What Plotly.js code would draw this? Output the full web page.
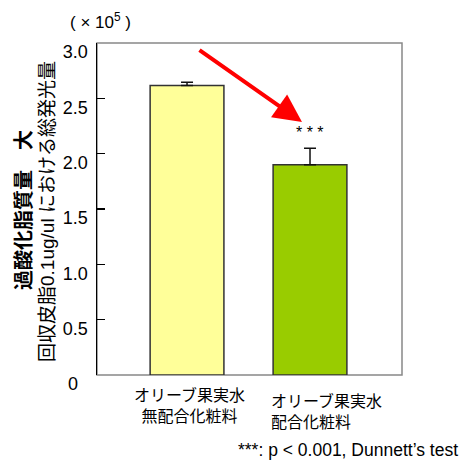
<!DOCTYPE html>
<html>
<head>
<meta charset="utf-8">
<script src="https://cdn.plot.ly/plotly-3.0.1.min.js"></script>
<style>
  html, body { margin: 0; padding: 0; background: #fff; }
  #chart { width: 462px; height: 467px; }
</style>
</head>
<body>
<div id="chart"></div>
<script>
// Total luminescence of recovered sebum (x10^5), with and without olive fruit water
const categories = ["オリーブ果実水<br>無配合化粧料", "オリーブ果実水<br>配合化粧料"];
const values = [2.615, 1.90];
const errorsUp = [0.03, 0.15];
const barColors = ["#FFFF99", "#99CC00"];
const yTickVals = [0, 0.5, 1.0, 1.5, 2.0, 2.5, 3.0];
const yTickText = ["0\u00a0\u00a0", "0.5", "1.0", "1.5", "2.0", "2.5", "3.0"];
const significance = "* * *";
const footnote = "***: p < 0.001, Dunnett’s test";

const FONT = "Liberation Sans, Arial, Noto Sans CJK JP, sans-serif";
const positions = categories.map((_, i) => i);

const W = 462, H = 467, M = { l: 97, r: 60, t: 43, b: 92 };
// helpers: page pixels -> paper fractions
const px = x => (x - M.l) / (W - M.l - M.r);
const py = y => (H - M.b - y) / (H - M.t - M.b);

const trace = {
  type: "bar",
  x: positions,
  y: values,
  width: 0.6,
  marker: { color: barColors, line: { color: "#333333", width: 1.5 } },
  error_y: {
    type: "data", symmetric: false, array: errorsUp, arrayminus: [0, 0],
    color: "#111111", thickness: 1.5, width: 6
  },
  hoverinfo: "none"
};

const annotations = [
  // category labels under the bars
  { x: positions[0] + 0.024, y: py(384), xref: "x", yref: "paper",
    xanchor: "center", yanchor: "top",
    text: categories[0], showarrow: false, align: "center",
    font: { family: FONT, size: 16, color: "#000" } },
  { x: positions[1] + 0.138, y: py(390), xref: "x", yref: "paper",
    xanchor: "center", yanchor: "top",
    text: categories[1], showarrow: false, align: "left",
    font: { family: FONT, size: 16, color: "#000" } },
  // significance mark above the treated bar
  { x: positions[1], y: values[1] + errorsUp[1] + 0.05, xref: "x", yref: "y",
    xanchor: "center", yanchor: "bottom", text: significance, showarrow: false,
    font: { family: FONT, size: 16, color: "#000" } },
  // downward trend arrow
  { x: px(302), y: py(122), xref: "paper", yref: "paper", ax: -104, ay: -73,
    text: "", showarrow: true, arrowhead: 2, arrowsize: 1.4, arrowwidth: 4,
    arrowcolor: "#FF0000", standoff: 0 },
  // unit label
  { x: px(100), y: py(21), xref: "paper", yref: "paper", xanchor: "center", yanchor: "middle",
    text: "( × 10<sup>5</sup> )", showarrow: false,
    font: { family: FONT, size: 17, color: "#000" } },
  // y-axis titles
  { x: px(24), y: py(210), xref: "paper", yref: "paper", xanchor: "center", yanchor: "middle",
    textangle: -90, showarrow: false,
    text: "<b>過酸化脂質量　大</b>",
    font: { family: FONT, size: 20, color: "#000" } },
  { x: px(47), y: py(212), xref: "paper", yref: "paper", xanchor: "center", yanchor: "middle",
    textangle: -90, showarrow: false,
    text: "回収皮脂0.1ug/ul における総発光量",
    font: { family: FONT, size: 19, color: "#000" } },
  // footnote
  { x: px(460), y: py(450), xref: "paper", yref: "paper", xanchor: "right", yanchor: "middle",
    text: footnote, showarrow: false,
    font: { family: FONT, size: 17.5, color: "#000" } }
];

const layout = {
  width: W, height: H,
  margin: M,
  paper_bgcolor: "#fff", plot_bgcolor: "#fff",
  showlegend: false,
  font: { family: FONT, color: "#000" },
  xaxis: {
    range: [-0.732, 1.748], showticklabels: false, ticks: "",
    showgrid: false, zeroline: false, showline: false, fixedrange: true
  },
  yaxis: {
    range: [0, 3.0], tickmode: "array", tickvals: yTickVals, ticktext: yTickText,
    ticks: "inside", ticklen: 8, tickwidth: 1.2, tickcolor: "#000",
    showline: true, linecolor: "#000", linewidth: 1.5,
    showgrid: false, zeroline: false,
    tickfont: { family: FONT, size: 18, color: "#000" },
    ticklabelshift: 9, ticklabelstandoff: 4
  },
  shapes: [
    { type: "rect", xref: "paper", yref: "paper", x0: 0, x1: 1, y0: 0, y1: 1,
      line: { color: "#888888", width: 1.5 }, layer: "below" }
  ],
  annotations: annotations
};

Plotly.newPlot("chart", [trace], layout, { staticPlot: true, displayModeBar: false });
</script>
</body>
</html>
